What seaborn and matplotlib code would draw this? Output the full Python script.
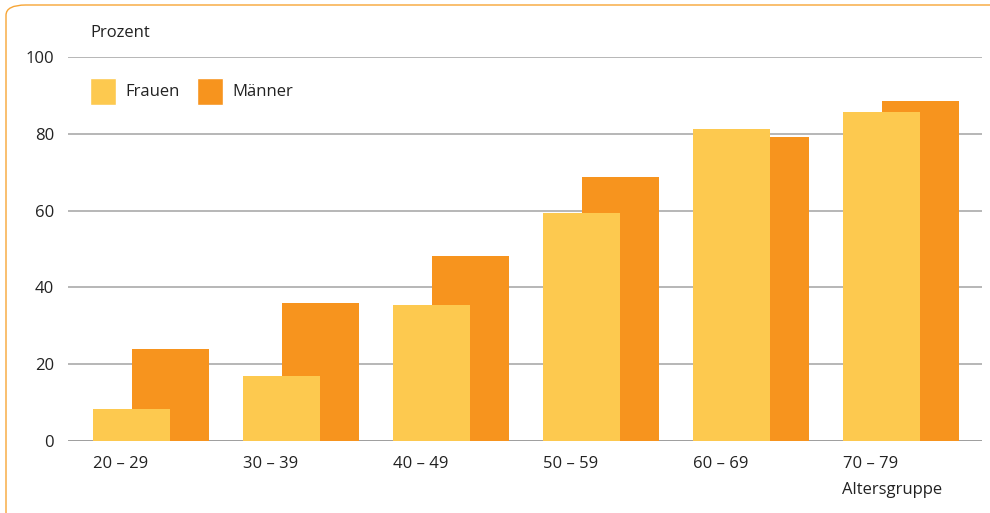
import numpy as np
import pandas as pd
import matplotlib
matplotlib.use("Agg")
import matplotlib.pyplot as plt
from matplotlib.patches import FancyBboxPatch, Patch
import seaborn as sns

# data
altersgruppen = ["20 – 29", "30 – 39", "40 – 49", "50 – 59", "60 – 69", "70 – 79"]
frauen = [8.3, 16.9, 35.4, 59.4, 81.3, 85.7]
maenner = [24.0, 35.9, 48.2, 68.8, 79.2, 88.5]

col_frauen = "#FDC94F"
col_maenner = "#F7941E"

sns.set_theme(style="white")
plt.rcParams["font.family"] = ["Open Sans", "DejaVu Sans"]

pos = np.arange(len(altersgruppen))
off = 0.13
w = 0.513

df_m = pd.DataFrame({"x": pos + off, "y": maenner})
df_f = pd.DataFrame({"x": pos - off, "y": frauen})

fig = plt.figure(figsize=(9.9, 5.13), dpi=100)
ax = fig.add_axes([0.0687, 0.1404, 0.9233, 0.7486])

# Maenner behind, Frauen in front
sns.barplot(data=df_m, x="x", y="y", native_scale=True, width=w,
            color=col_maenner, saturation=1, ax=ax, zorder=2)
sns.barplot(data=df_f, x="x", y="y", native_scale=True, width=w,
            color=col_frauen, saturation=1, ax=ax, zorder=3)
for p in ax.patches:
    p.set_edgecolor("none")
    p.set_linewidth(0)

ax.set_xlim(-0.553, 5.54)
ax.set_ylim(0, 100)
ax.set_yticks([0, 20, 40, 60, 80, 100])
ax.yaxis.grid(True, color="#AAAAAA", linewidth=1.2, zorder=0)
ax.set_axisbelow(True)
ax.axhline(0, color="#999999", linewidth=1.8, zorder=1)
for s in ax.spines.values():
    s.set_visible(False)

ax.set_xticks(pos - off - w / 2)
ax.set_xticklabels(altersgruppen, ha="left")
ax.tick_params(axis="both", length=0, labelsize=12, colors="#222222")
ax.tick_params(axis="x", pad=11)
ax.tick_params(axis="y", pad=10)
ax.set_xlabel("")
ax.set_ylabel("")

fig.text(90 / 990, 1 - 33 / 513, "Prozent", fontsize=12, color="#222222",
         ha="left", va="center")
fig.text(842 / 990, 1 - 490 / 513, "Altersgruppe", fontsize=12, color="#222222",
         ha="left", va="center")

handles = [Patch(facecolor=col_frauen, label="Frauen"),
           Patch(facecolor=col_maenner, label="Männer")]
leg = ax.legend(handles=handles, loc="upper left", bbox_to_anchor=(0.0167, 0.963),
                ncol=2, frameon=False, fontsize=12, handlelength=1.55,
                handleheight=2.1, handletextpad=0.6, columnspacing=1.0,
                borderaxespad=0)
for t in leg.get_texts():
    t.set_color("#222222")

frame = FancyBboxPatch((6 / 990, -0.05), 1.1, 1.05 - 5 / 513,
                       boxstyle="round,pad=0,rounding_size=0.02",
                       transform=fig.transFigure, fill=False,
                       edgecolor="#F7A535", linewidth=1.0, clip_on=False)
fig.patches.append(frame)

fig.savefig("out.png", dpi=100)
